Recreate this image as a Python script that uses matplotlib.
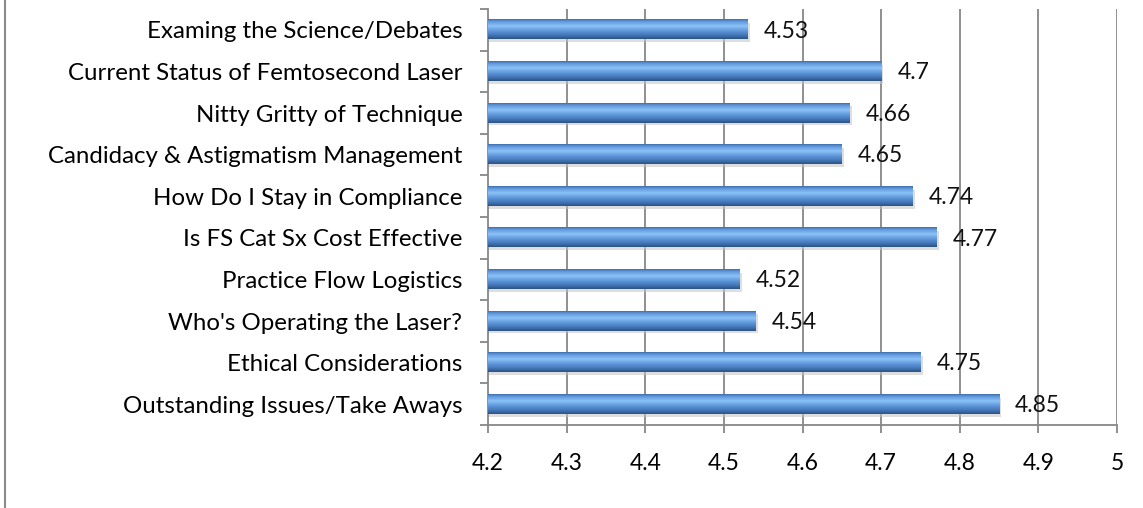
import numpy as np
import matplotlib
matplotlib.use("Agg")
import matplotlib.pyplot as plt
from matplotlib.colors import LinearSegmentedColormap
from matplotlib.lines import Line2D

categories = [
    "Examing the Science/Debates",
    "Current Status of Femtosecond Laser",
    "Nitty Gritty of Technique",
    "Candidacy & Astigmatism Management",
    "How Do I Stay in Compliance",
    "Is FS Cat Sx Cost Effective",
    "Practice Flow Logistics",
    "Who's Operating the Laser?",
    "Ethical Considerations",
    "Outstanding Issues/Take Aways",
]
values = [4.53, 4.7, 4.66, 4.65, 4.74, 4.77, 4.52, 4.54, 4.75, 4.85]
value_labels = ["4.53", "4.7", "4.66", "4.65", "4.74", "4.77", "4.52", "4.54", "4.75", "4.85"]
xticks = [4.2, 4.3, 4.4, 4.5, 4.6, 4.7, 4.8, 4.9, 5.0]
xticklabels = ["4.2", "4.3", "4.4", "4.5", "4.6", "4.7", "4.8", "4.9", "5"]

plt.rcParams['font.family'] = ['Lato', 'DejaVu Sans']

fig = plt.figure(figsize=(11.43, 5.08), dpi=100)
ax = fig.add_axes([488/1143, 1 - 425/508, (1117 - 488)/1143, (425 - 9)/508])

n = len(categories)
ypos = np.arange(n)[::-1]  # first category on top
xmin, xmax = 4.2, 5.0
bar_h = 0.46

# gradient: top -> bottom
cmap = LinearSegmentedColormap.from_list("bar", [
    (0.0, "#3f70b0"),
    (0.12, "#629ade"),
    (0.35, "#8cc2f6"),
    (0.55, "#659de0"),
    (0.8, "#4479bb"),
    (1.0, "#2c5384"),
])
grad = np.linspace(0, 1, 64).reshape(-1, 1)

ax.set_xlim(xmin, xmax)
ax.set_ylim(-0.5, n - 0.5)

# gridlines
for xt in xticks[1:]:
    ax.axvline(xt, color="#878787", lw=1.3, zorder=1)

for y, v, lab in zip(ypos, values, value_labels):
    # shadow
    ax.barh(y - 0.07, v - xmin + 0.003, left=xmin, height=bar_h, color="#c4c4c4",
            alpha=0.55, zorder=2, linewidth=0)
    ax.imshow(grad, extent=[xmin, v, y - bar_h / 2, y + bar_h / 2], cmap=cmap,
              aspect="auto", origin="upper", zorder=3, interpolation="bilinear")
    ax.text(v + 0.0205, y - 0.03, lab, va="center", ha="left", fontsize=16.5,
            color="#111111", zorder=5)

ax.set_xlim(xmin, xmax)
ax.set_ylim(-0.5, n - 0.5)

ax.set_yticks(ypos)
ax.set_yticklabels(categories, fontsize=17.3)
ax.tick_params(axis="y", length=0, pad=18.5)
ax.set_yticks(np.arange(-0.5, n, 1.0), minor=True)
ax.tick_params(axis="y", which="minor", length=5.5, width=1.3, color="#878787", direction="out")

ax.set_xticks(xticks)
ax.set_xticklabels(xticklabels, fontsize=16.5)
ax.tick_params(axis="x", length=5.5, width=1.3, color="#878787", direction="out", pad=14.5)

for s in ["top", "right"]:
    ax.spines[s].set_visible(False)
for s in ["left", "bottom"]:
    ax.spines[s].set_color("#878787")
    ax.spines[s].set_linewidth(1.3)

# chart-area border on left edge
fig.add_artist(Line2D([5/1143, 5/1143], [0, 1], color="#8a8a8a", lw=1.5,
                      transform=fig.transFigure))

fig.savefig("out.png", dpi=100)
